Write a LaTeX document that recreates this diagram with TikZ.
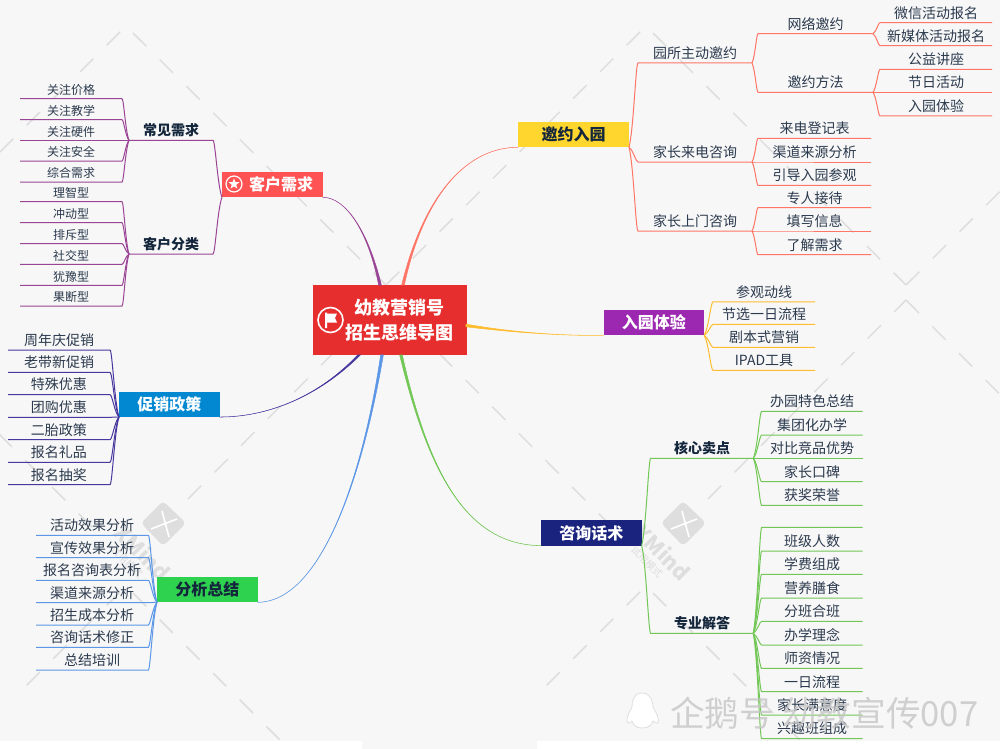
\documentclass[tikz,border=0pt]{standalone}
\usepackage{fontspec}
\setmainfont{Noto Sans CJK SC}
\usetikzlibrary{calc,shapes.geometric}
\definecolor{paper}{HTML}{F7F7F7}
\definecolor{wm}{HTML}{DEDEDE}
\definecolor{ink}{HTML}{2B3A4E}
\definecolor{inkdark}{HTML}{14263C}
\definecolor{rootred}{HTML}{E62E2E}
\definecolor{coral}{HTML}{FF7566}
\definecolor{plum}{HTML}{9A4496}
\definecolor{violet}{HTML}{47379E}
\definecolor{skyblue}{HTML}{5B97E6}
\definecolor{leafgreen}{HTML}{72C756}
\definecolor{amber}{HTML}{FFBC2E}
\definecolor{inviteyellow}{HTML}{FFD62E}
\definecolor{needred}{HTML}{FF5252}
\definecolor{promoblue}{HTML}{0288D1}
\definecolor{reviewgreen}{HTML}{2ED24F}
\definecolor{talknavy}{HTML}{1A237E}
\definecolor{visitpurple}{HTML}{9C27B0}
\tikzset{
  wmline/.style={wm,line width=1.1pt,dash pattern=on 14.1pt off 14.2pt},
  wmtext/.style={wm,inner sep=0,rotate=-45},
  leafnode/.style={inner sep=0,outer sep=0,anchor=south west,minimum width=#1*0.75pt,minimum height=15pt,text=ink,font=\fontsize{10.5}{12}\selectfont},
  smallnode/.style={leafnode=#1,minimum height=13pt,font=\fontsize{9}{11}\selectfont},
  boldnode/.style={leafnode=#1,text=inkdark,font=\fontsize{10.5}{12}\selectfont\bfseries},
  topicbox/.style={inner sep=0,outer sep=0,anchor=north west,minimum width=75.5pt,minimum height=19pt,text=white,font=\fontsize{12}{14}\selectfont\bfseries},
  fork/.style={to path={let \p1=(\tikztostart),\p2=(\tikztotarget) in .. controls ({\x1+.5*(\x2-\x1)},{\y1+.2*(\y2-\y1)}) and ({\x1+.75*(\x2-\x1)},\y2) .. (\p2)}},
  coralline/.style={coral,line width=.75pt},
  plumline/.style={plum,line width=.75pt},
  violetline/.style={violet,line width=.75pt},
  skyline/.style={skyblue,line width=.75pt},
  greenline/.style={leafgreen,line width=.75pt},
  amberline/.style={amber,line width=.75pt},
  taper/.style={draw=#1,fill=#1,line width=.4pt}
}
\begin{document}
\begin{tikzpicture}[x=0.75pt,y=-0.75pt]
\useasboundingbox (0,0) rectangle (1000,749);
\fill[paper] (0,0) rectangle (1000,749);
\fill[white] (0,741) rectangle (362,749);
\fill[white] (537,741) rectangle (1000,749);

\draw[wmline] (133,33)--(386,285);
\draw[wmline] (120,32)--(-20,172);
\draw[wmline] (653,33)--(906,285);
\draw[wmline] (640,32)--(386,285);
\draw[wmline] (1160,32)--(906,285);
\draw[wmline] (92,527)--(-20,415);
\draw[wmline] (188,499)--(386,300);
\draw[wmline] (133,593)--(290,750);
\draw[wmline] (120,592)--(26,686);
\draw[wmline] (612,527)--(386,300);
\draw[wmline] (708,499)--(906,300);
\draw[wmline] (653,593)--(810,750);
\draw[wmline] (640,592)--(546,686);
\draw[wmline] (1132,527)--(906,300);

\fill[wm,rounded corners=3pt] (163,501)--(186,523)--(163,546)--(141,523)--cycle;
\draw[white,line width=1.2pt] (162,511)--(169,537);
\draw[white,line width=1.2pt] (151,529)--(177,519);
\fill[wm,rounded corners=3pt] (683,501)--(706,523)--(683,546)--(661,523)--cycle;
\draw[white,line width=1.2pt] (682,511)--(689,537);
\draw[white,line width=1.2pt] (671,529)--(697,519);
\node[wmtext,font=\fontsize{16}{18}\selectfont\bfseries] (markleft) at (143,552) {XMind};
\node[wmtext,font=\fontsize{7.5}{9}\selectfont] (marksubleft) at (127,562) {试用模式};
\node[wmtext,font=\fontsize{16}{18}\selectfont\bfseries] (markright) at (663,552) {XMind};
\node[wmtext,font=\fontsize{7.5}{9}\selectfont] (marksubright) at (647,562) {试用模式};

\node[fill=rootred,inner sep=0,outer sep=0,anchor=north west,minimum width=115.5pt,minimum height=53pt] (root) at (312.5,284.5) {};
\node[text=white,inner sep=0,align=center,font=\fontsize{13.5}{18.4}\selectfont\bfseries] (roottext) at (399,320) {幼教营销号\\招生思维导图};
\draw[white,line width=1.2pt] (330.5,320) circle (12.5);
\fill[white] (325,312.5)--(327,312.5)--(327,313.5)--(337,313.5)--(335,318)--(337,322.5)--(327,322.5)--(327,328)--(325,328)--cycle;

\node[topicbox,fill=inviteyellow,text=inkdark,minimum width=83.25pt] (invitebox) at (518,122) {邀约入园};
\node[topicbox,fill=needred] (needbox) at (222,172) {};
\node[text=white,inner sep=0,font=\fontsize{12}{14}\selectfont\bfseries] (needtext) at (281,184) {客户需求};
\draw[white,line width=.9pt] (234,184) circle (8);
\node[star,star points=5,star point ratio=2.4,fill=white,inner sep=0,minimum size=8.5pt] (needstar) at (234,184) {};
\node[topicbox,fill=promoblue] (promobox) at (119,391.7) {促销政策};
\node[topicbox,fill=reviewgreen,text=inkdark] (reviewbox) at (157,577) {分析总结};
\node[topicbox,fill=talknavy] (talkbox) at (541,520.3) {咨询话术};
\node[topicbox,fill=visitpurple] (visitbox) at (603.5,310) {入园体验};

\coordinate (rootcoral) at (403,285);
\coordinate (rootplum) at (380,285);
\coordinate (rootviolet) at (359,355);
\coordinate (rootsky) at (382,355);
\coordinate (rootgreen) at (401,355);
\coordinate (rootamber) at (466,325.5);
\fill[taper=coral] ([xshift=-1pt]rootcoral) .. controls (425,190) and (470,147) .. (invitebox.south west) .. controls (470,147) and (425,190) .. ([xshift=1pt]rootcoral) -- cycle;
\fill[taper=plum] ([xshift=-1pt]rootplum) .. controls (368,230) and (345,197) .. (needbox.south east) .. controls (345,197) and (368,230) .. ([xshift=1pt]rootplum) -- cycle;
\fill[taper=violet] ([xshift=-1pt]rootviolet) .. controls (320,395) and (270,417) .. (promobox.south east) .. controls (270,417) and (320,395) .. ([xshift=1pt]rootviolet) -- cycle;
\fill[taper=skyblue] ([xshift=-1pt]rootsky) .. controls (362,480) and (320,602) .. (reviewbox.south east) .. controls (320,602) and (362,480) .. ([xshift=1pt]rootsky) -- cycle;
\fill[taper=leafgreen] ([xshift=-1pt]rootgreen) .. controls (430,480) and (470,545) .. (talkbox.south west) .. controls (470,545) and (430,480) .. ([xshift=1pt]rootgreen) -- cycle;
\fill[taper=amber] ([yshift=-1pt]rootamber) .. controls (510,332) and (560,336) .. (visitbox.south west) .. controls (560,336) and (510,332) .. ([yshift=1pt]rootamber) -- cycle;

\node[leafnode=114] (selfinvite) at (638,63) {园所主动邀约};
\node[leafnode=114] (phoneask) at (638,162) {家长来电咨询};
\node[leafnode=114] (doorask) at (638,231) {家长上门咨询};
\node[leafnode=115] (netinvite) at (758,33.7) {网络邀约};
\node[leafnode=115] (waysinvite) at (758,92.3) {邀约方法};
\node[leafnode=112] (wechatsign) at (880,22.7) {微信活动报名};
\node[leafnode=112] (mediasign) at (880,45.7) {新媒体活动报名};
\node[leafnode=112] (charitytalk) at (880,69.3) {公益讲座};
\node[leafnode=112] (holidayfun) at (880,92.3) {节日活动};
\node[leafnode=112] (trialday) at (880,116) {入园体验};
\node[leafnode=113] (callbook) at (758,138.3) {来电登记表};
\node[leafnode=113] (callsource) at (758,162) {渠道来源分析};
\node[leafnode=113] (calltour) at (758,185.3) {引导入园参观};
\node[leafnode=113] (doorguide) at (758,207.7) {专人接待};
\node[leafnode=113] (doorform) at (758,231) {填写信息};
\node[leafnode=113] (doorneeds) at (758,254.7) {了解需求};
\draw[coralline] (invitebox.south east) to[fork] (selfinvite.south west) -- (selfinvite.south east);
\draw[coralline] (invitebox.south east) to[fork] (phoneask.south west) -- (phoneask.south east);
\draw[coralline] (invitebox.south east) to[fork] (doorask.south west) -- (doorask.south east);
\draw[coralline] (selfinvite.south east) to[fork] (netinvite.south west) -- (netinvite.south east);
\draw[coralline] (selfinvite.south east) to[fork] (waysinvite.south west) -- (waysinvite.south east);
\draw[coralline] (netinvite.south east) to[fork] (wechatsign.south west) -- (wechatsign.south east);
\draw[coralline] (netinvite.south east) to[fork] (mediasign.south west) -- (mediasign.south east);
\draw[coralline] (waysinvite.south east) to[fork] (charitytalk.south west) -- (charitytalk.south east);
\draw[coralline] (waysinvite.south east) to[fork] (holidayfun.south west) -- (holidayfun.south east);
\draw[coralline] (waysinvite.south east) to[fork] (trialday.south west) -- (trialday.south east);
\draw[coralline] (phoneask.south east) to[fork] (callbook.south west) -- (callbook.south east);
\draw[coralline] (phoneask.south east) to[fork] (callsource.south west) -- (callsource.south east);
\draw[coralline] (phoneask.south east) to[fork] (calltour.south west) -- (calltour.south east);
\draw[coralline] (doorask.south east) to[fork] (doorguide.south west) -- (doorguide.south east);
\draw[coralline] (doorask.south east) to[fork] (doorform.south west) -- (doorform.south east);
\draw[coralline] (doorask.south east) to[fork] (doorneeds.south west) -- (doorneeds.south east);

\node[leafnode=102] (tourroute) at (713,301.8) {参观动线};
\node[leafnode=102] (dayflow) at (713,324.4) {节选一日流程};
\node[leafnode=102] (scriptsale) at (713,347.4) {剧本式营销};
\node[leafnode=102] (ipadtool) at (713,370.3) {IPAD工具};
\draw[amberline] (visitbox.south east) to[fork] (tourroute.south west) -- (tourroute.south east);
\draw[amberline] (visitbox.south east) to[fork] (dayflow.south west) -- (dayflow.south east);
\draw[amberline] (visitbox.south east) to[fork] (scriptsale.south west) -- (scriptsale.south east);
\draw[amberline] (visitbox.south east) to[fork] (ipadtool.south west) -- (ipadtool.south east);

\node[boldnode=102.6] (corepoints) at (650.7,458.3) {核心卖点};
\node[boldnode=102.6] (proanswers) at (650.7,633.3) {专业解答};
\node[leafnode=101] (featsum) at (761.7,411.3) {办园特色总结};
\node[leafnode=101] (groupschool) at (761.7,435) {集团化办学};
\node[leafnode=101] (rivalcompare) at (761.7,458.3) {对比竞品优势};
\node[leafnode=101] (parentword) at (761.7,481.7) {家长口碑};
\node[leafnode=101] (honours) at (761.7,505.3) {获奖荣誉};
\node[leafnode=101] (blanktopic) at (761.7,527.3) {};
\node[leafnode=101] (classsize) at (761.7,551) {班级人数};
\node[leafnode=101] (feeparts) at (761.7,574.3) {学费组成};
\node[leafnode=101] (mealplan) at (761.7,598) {营养膳食};
\node[leafnode=101] (classmerge) at (761.7,621.3) {分班合班};
\node[leafnode=101] (schoolidea) at (761.7,645) {办学理念};
\node[leafnode=101] (teacherinfo) at (761.7,668.3) {师资情况};
\node[leafnode=101] (dayroutine) at (761.7,691.7) {一日流程};
\node[leafnode=101] (satisfaction) at (761.7,715) {家长满意度};
\node[leafnode=101] (hobbyclass) at (761.7,738.7) {兴趣班组成};
\draw[greenline] (talkbox.south east) to[fork] (corepoints.south west) -- (corepoints.south east);
\draw[greenline] (talkbox.south east) to[fork] (proanswers.south west) -- (proanswers.south east);
\draw[greenline] (corepoints.south east) to[fork] (featsum.south west) -- (featsum.south east);
\draw[greenline] (corepoints.south east) to[fork] (groupschool.south west) -- (groupschool.south east);
\draw[greenline] (corepoints.south east) to[fork] (rivalcompare.south west) -- (rivalcompare.south east);
\draw[greenline] (corepoints.south east) to[fork] (parentword.south west) -- (parentword.south east);
\draw[greenline] (corepoints.south east) to[fork] (honours.south west) -- (honours.south east);
\draw[greenline] (proanswers.south east) to[fork] (blanktopic.south west) -- (blanktopic.south east);
\draw[greenline] (proanswers.south east) to[fork] (classsize.south west) -- (classsize.south east);
\draw[greenline] (proanswers.south east) to[fork] (feeparts.south west) -- (feeparts.south east);
\draw[greenline] (proanswers.south east) to[fork] (mealplan.south west) -- (mealplan.south east);
\draw[greenline] (proanswers.south east) to[fork] (classmerge.south west) -- (classmerge.south east);
\draw[greenline] (proanswers.south east) to[fork] (schoolidea.south west) -- (schoolidea.south east);
\draw[greenline] (proanswers.south east) to[fork] (teacherinfo.south west) -- (teacherinfo.south east);
\draw[greenline] (proanswers.south east) to[fork] (dayroutine.south west) -- (dayroutine.south east);
\draw[greenline] (proanswers.south east) to[fork] (satisfaction.south west) -- (satisfaction.south east);
\draw[greenline] (proanswers.south east) to[fork] (hobbyclass.south west) -- (hobbyclass.south east);

\node[boldnode=84] (usualneeds) at (129,140.3) {常见需求};
\node[boldnode=84] (clienttypes) at (129,254) {客户分类};
\node[smallnode=102] (carecost) at (20,98.7) {关注价格};
\node[smallnode=102] (careteach) at (20,119.7) {关注教学};
\node[smallnode=102] (carehardware) at (20,140.3) {关注硬件};
\node[smallnode=102] (caresafe) at (20,161) {关注安全};
\node[smallnode=102] (caremix) at (20,182) {综合需求};
\node[smallnode=102] (typereason) at (20,201.7) {理智型};
\node[smallnode=102] (typeimpulse) at (20,222.7) {冲动型};
\node[smallnode=102] (typereject) at (20,243.7) {排斥型};
\node[smallnode=102] (typesocial) at (20,264.3) {社交型};
\node[smallnode=102] (typedoubt) at (20,285.3) {犹豫型};
\node[smallnode=102] (typefirm) at (20,306) {果断型};
\draw[plumline] (needbox.south west) to[fork] (usualneeds.south east) -- (usualneeds.south west);
\draw[plumline] (needbox.south west) to[fork] (clienttypes.south east) -- (clienttypes.south west);
\draw[plumline] (usualneeds.south west) to[fork] (carecost.south east) -- (carecost.south west);
\draw[plumline] (usualneeds.south west) to[fork] (careteach.south east) -- (careteach.south west);
\draw[plumline] (usualneeds.south west) to[fork] (carehardware.south east) -- (carehardware.south west);
\draw[plumline] (usualneeds.south west) to[fork] (caresafe.south east) -- (caresafe.south west);
\draw[plumline] (usualneeds.south west) to[fork] (caremix.south east) -- (caremix.south west);
\draw[plumline] (clienttypes.south west) to[fork] (typereason.south east) -- (typereason.south west);
\draw[plumline] (clienttypes.south west) to[fork] (typeimpulse.south east) -- (typeimpulse.south west);
\draw[plumline] (clienttypes.south west) to[fork] (typereject.south east) -- (typereject.south west);
\draw[plumline] (clienttypes.south west) to[fork] (typesocial.south east) -- (typesocial.south west);
\draw[plumline] (clienttypes.south west) to[fork] (typedoubt.south east) -- (typedoubt.south west);
\draw[plumline] (clienttypes.south west) to[fork] (typefirm.south east) -- (typefirm.south west);

\node[leafnode=102] (yearpromo) at (8,350) {周年庆促销};
\node[leafnode=102] (friendpromo) at (8,372.3) {老带新促销};
\node[leafnode=102] (specialoffer) at (8,394.7) {特殊优惠};
\node[leafnode=102] (groupoffer) at (8,417.3) {团购优惠};
\node[leafnode=102] (secondchild) at (8,439.7) {二胎政策};
\node[leafnode=102] (signgift) at (8,462.3) {报名礼品};
\node[leafnode=102] (signdraw) at (8,484.7) {报名抽奖};
\draw[violetline] (promobox.south west) to[fork] (yearpromo.south east) -- (yearpromo.south west);
\draw[violetline] (promobox.south west) to[fork] (friendpromo.south east) -- (friendpromo.south west);
\draw[violetline] (promobox.south west) to[fork] (specialoffer.south east) -- (specialoffer.south west);
\draw[violetline] (promobox.south west) to[fork] (groupoffer.south east) -- (groupoffer.south west);
\draw[violetline] (promobox.south west) to[fork] (secondchild.south east) -- (secondchild.south west);
\draw[violetline] (promobox.south west) to[fork] (signgift.south east) -- (signgift.south west);
\draw[violetline] (promobox.south west) to[fork] (signdraw.south east) -- (signdraw.south west);

\node[leafnode=112.3] (eventreview) at (36,535.3) {活动效果分析};
\node[leafnode=112.3] (adreview) at (36,557.7) {宣传效果分析};
\node[leafnode=112.3] (signreview) at (36,580.3) {报名咨询表分析};
\node[leafnode=112.3] (sourcereview) at (36,602.7) {渠道来源分析};
\node[leafnode=112.3] (costreview) at (36,625) {招生成本分析};
\node[leafnode=112.3] (scriptfix) at (36,647.3) {咨询话术修正};
\node[leafnode=112.3] (sumtrain) at (36,670) {总结培训};
\draw[skyline] (reviewbox.south west) to[fork] (eventreview.south east) -- (eventreview.south west);
\draw[skyline] (reviewbox.south west) to[fork] (adreview.south east) -- (adreview.south west);
\draw[skyline] (reviewbox.south west) to[fork] (signreview.south east) -- (signreview.south west);
\draw[skyline] (reviewbox.south west) to[fork] (sourcereview.south east) -- (sourcereview.south west);
\draw[skyline] (reviewbox.south west) to[fork] (costreview.south east) -- (costreview.south west);
\draw[skyline] (reviewbox.south west) to[fork] (scriptfix.south east) -- (scriptfix.south west);
\draw[skyline] (reviewbox.south west) to[fork] (sumtrain.south east) -- (sumtrain.south west);

\fill[white,draw=wm,line width=.6pt] (642,693) .. controls (633,693) and (632,702) .. (632,707) .. controls (629,712) and (625,720) .. (628,723) .. controls (630,724) and (631,722) .. (632,721) .. controls (633,725) and (636,728) .. (642,728) .. controls (649,728) and (652,725) .. (653,721) .. controls (654,722) and (656,724) .. (658,723) .. controls (660,720) and (656,712) .. (653,707) .. controls (653,702) and (651,693) .. (642,693) -- cycle;
\node[anchor=west,inner sep=0,text=gray!45,opacity=.8,font=\fontsize{26}{28}\selectfont] (penguinmark) at (670,713) {企鹅号 幼教宣传007};
\end{tikzpicture}
\end{document}
